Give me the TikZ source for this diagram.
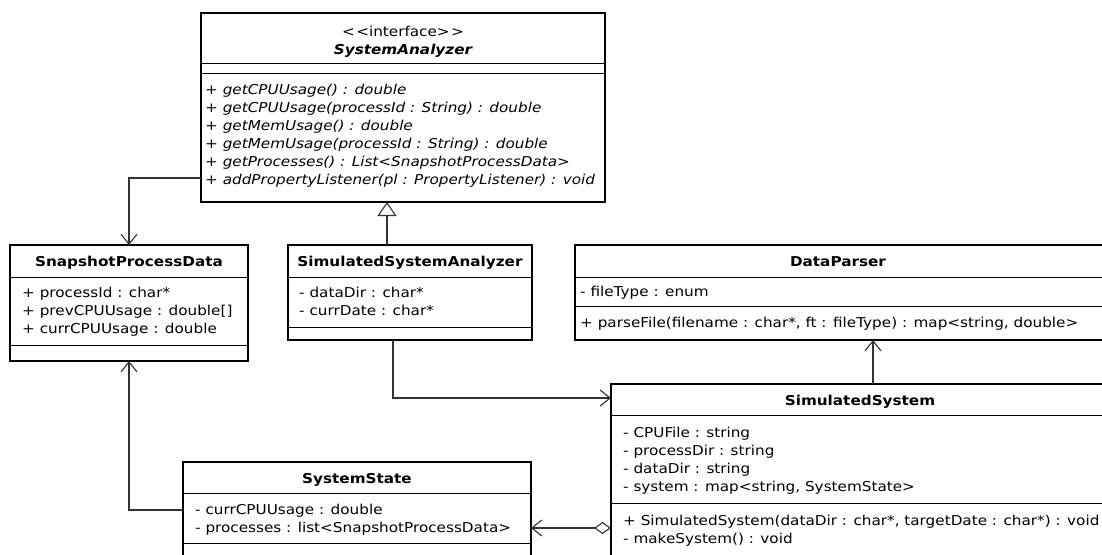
\documentclass[tikz,border=0pt]{standalone}
\usepackage{fontspec}
\setmainfont{DejaVu Sans}[FakeStretch=1.12]
\usetikzlibrary{arrows.meta}
\begin{document}
\begin{tikzpicture}[x=1pt,y=-1pt,
  umlbox/.style={draw=black, line width=2pt, fill=white, anchor=north west,
    inner sep=0pt, outer sep=0pt},
  sepline/.style={line width=1pt, draw=black},
  txt/.style={anchor=base west, inner sep=0pt, font=\fontsize{13.6}{15}\selectfont},
  itxt/.style={txt, font=\fontsize{13.6}{15}\selectfont\itshape},
  ttl/.style={anchor=base, inner sep=0pt, font=\fontsize{13.6}{15}\selectfont\bfseries},
  conn/.style={line width=1.1pt, draw=black!80},
  assoc/.style={conn, -{Straight Barb[length=10pt,width=16pt,line width=1.1pt]}},
  realize/.style={conn, -{Triangle[open,length=14pt,width=19pt,line width=1.1pt,fill=white]}},
  aggr/.style={conn, {Diamond[open,length=17pt,width=12pt,line width=1.1pt,fill=white]}-{Straight Barb[length=10pt,width=16pt,line width=1.1pt]}}
]
\useasboundingbox[fill=white] (0,0) rectangle (1102,554);

% ---------- class boxes ----------
\node[umlbox, minimum width=404pt, minimum height=189pt] (sa)  at (201,13)  {};
\node[umlbox, minimum width=238pt, minimum height=116pt] (spd) at (10,245)  {};
\node[umlbox, minimum width=244pt, minimum height=95pt]  (ssa) at (288,245) {};
\node[umlbox, minimum width=540pt, minimum height=95pt]  (dp)  at (575,245) {};
\node[umlbox, minimum width=500pt, minimum height=200pt] (ss)  at (611,384) {};
\node[umlbox, minimum width=348pt, minimum height=120pt] (st)  at (183,462) {};

% ---------- compartment separators ----------
\foreach \b/\d in {sa/50, sa/60, spd/32, spd/100, ssa/32, ssa/82, dp/32, dp/61, ss/31, ss/119, st/31, st/81}
  \draw[sepline] ([yshift=-\d pt]\b.north west) -- ([yshift=-\d pt]\b.north east);

% ---------- SystemAnalyzer ----------
\node[anchor=base, inner sep=0pt, font=\fontsize{13.6}{15}\selectfont] (sa-st) at (403,36.5) {{<}\kern1.5pt{<}interface{>}\kern1.5pt{>}};
\node[ttl, font=\fontsize{13.6}{15}\selectfont\bfseries\itshape] (sa-t) at (403,54.5) {SystemAnalyzer};
\node[itxt] (sa-m1) at (205,94.5)  {+ getCPUUsage() : double};
\node[itxt] (sa-m2) at (205,112.5) {+ getCPUUsage(processId : String) : double};
\node[itxt] (sa-m3) at (205,130.5) {+ getMemUsage() : double};
\node[itxt] (sa-m4) at (205,148.5) {+ getMemUsage(processId : String) : double};
\node[itxt] (sa-m5) at (205,166.5) {+ getProcesses() : List<SnapshotProcessData>};
\node[itxt] (sa-m6) at (205,184.5) {+ addPropertyListener(pl : PropertyListener) : void};

% ---------- SnapshotProcessData ----------
\node[ttl] (spd-t)  at (129,266)   {SnapshotProcessData};
\node[txt] (spd-a1) at (22,297.5)  {+ processId : char*};
\node[txt] (spd-a2) at (22,315.5)  {+ prevCPUUsage : double[]};
\node[txt] (spd-a3) at (22,333.5)  {+ currCPUUsage : double};

% ---------- SimulatedSystemAnalyzer ----------
\node[ttl] (ssa-t)  at (410,266)   {SimulatedSystemAnalyzer};
\node[txt] (ssa-a1) at (299,297.5) {- dataDir : char*};
\node[txt] (ssa-a2) at (299,315.5) {- currDate : char*};

% ---------- DataParser ----------
\node[ttl] (dp-t)  at (838,266)   {DataParser};
\node[txt] (dp-a1) at (580,296.5) {- fileType : enum};
\node[txt] (dp-m1) at (580,327)   {+ parseFile(filename : char*, ft : fileType) : map<string, double>};

% ---------- SimulatedSystem ----------
\node[ttl] (ss-t)  at (860,405) {SimulatedSystem};
\node[txt] (ss-a1) at (623,437) {- CPUFile : string};
\node[txt] (ss-a2) at (623,455) {- processDir : string};
\node[txt] (ss-a3) at (623,473) {- dataDir : string};
\node[txt] (ss-a4) at (623,491) {- system : map<string, SystemState>};
\node[txt] (ss-m1) at (623,525) {+ SimulatedSystem(dataDir : char*, targetDate : char*) : void};
\node[txt] (ss-m2) at (623,543) {- makeSystem() : void};

% ---------- SystemState ----------
\node[ttl] (st-t)  at (357,483)   {SystemState};
\node[txt] (st-a1) at (195,514.5) {- currCPUUsage : double};
\node[txt] (st-a2) at (195,532.5) {- processes : list<SnapshotProcessData>};

% ---------- relationships ----------
\coordinate (k1) at (129,178);
\coordinate (k2) at (387,0);
\coordinate (k3) at (393,398);
\coordinate (k4) at (873,0);
\coordinate (k5) at (0,528);
\coordinate (k6) at (129,510);

\draw[assoc]   (sa.west |- k1) -- (k1) -- (spd.north -| k1);
\draw[realize] (ssa.north -| k2) -- (sa.south -| k2);
\draw[assoc]   (ssa.south -| k3) -- (k3) -- (ss.west |- k3);
\draw[assoc]   (ss.north -| k4) -- (dp.south -| k4);
\draw[aggr]    (ss.west |- k5) -- (st.east |- k5);
\draw[assoc]   (st.west |- k6) -- (k6) -- (spd.south -| k6);
\end{tikzpicture}
\end{document}
